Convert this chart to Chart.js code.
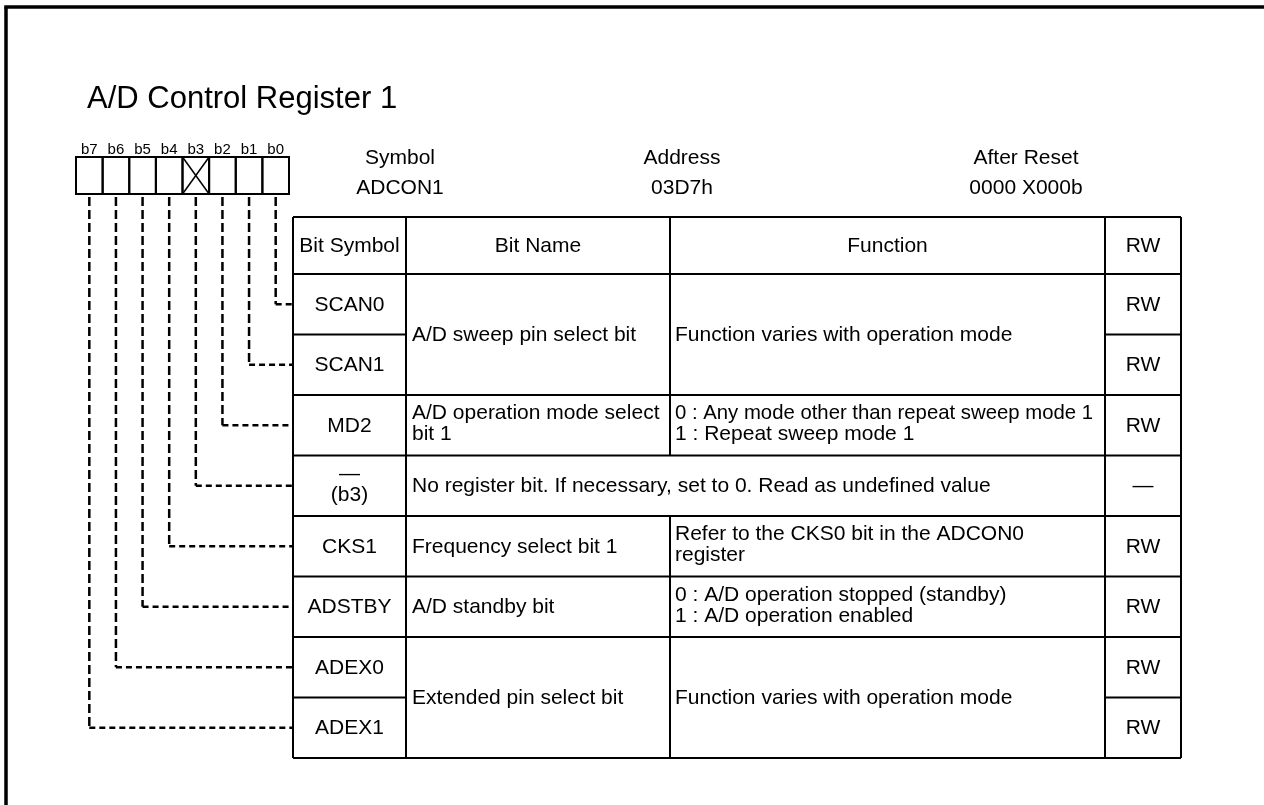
<!DOCTYPE html>
<html><head><meta charset="utf-8">
<script src="https://cdn.jsdelivr.net/npm/chart.js@4.4.1/dist/chart.umd.min.js"></script>
<style>html,body{margin:0;padding:0;background:#fff;overflow:hidden}canvas{display:block}</style>
</head><body><canvas id="c" width="1264" height="805"></canvas>
<script>
// ---- content ----
const title = 'A/D Control Register 1';
const bitLabels = ['b7','b6','b5','b4','b3','b2','b1','b0'];
const reservedBits = ['b3'];
const infoLabels = ['Symbol','Address','After Reset'];
const infoValues = ['ADCON1','03D7h','0000 X000b'];
const columnHeaders = ['Bit Symbol','Bit Name','Function','RW'];
const rowSymbols = ['SCAN0','SCAN1','MD2','—\n(b3)','CKS1','ADSTBY','ADEX0','ADEX1'];
const rowBits = ['b0','b1','b2','b3','b4','b5','b6','b7'];
const rowRW = ['RW','RW','RW','—','RW','RW','RW','RW'];
const groupRows = [[0,1],[2],[3],[4],[5],[6,7]];
const groupNames = ['A/D sweep pin select bit','A/D operation mode select\nbit 1','No register bit. If necessary, set to 0. Read as undefined value','Frequency select bit 1','A/D standby bit','Extended pin select bit'];
const groupFunctions = ['Function varies with operation mode','0 : Any mode other than repeat sweep mode 1\n1 : Repeat sweep mode 1',null,'Refer to the CKS0 bit in the ADCON0\nregister','0 : A/D operation stopped (standby)\n1 : A/D operation enabled','Function varies with operation mode'];

// ---- layout ----
const W = 1264, H = 805;
const L = {
  border:{x:6, y:7, w:3.5},
  title:{x:87, y:108, size:31},
  box:{left:76, right:289, top:157, bottom:194},
  bitLabelY:154, bitLabelSize:15,
  info:{x:[400,682,1026], y1:164, y2:194},
  cols:[293,406,670,1105,1181],
  tableTop:217, headerBottom:274, tableBottom:758,
  font:21, lineH:21, padL:6, padR:12,
  connTop:197
};
const boxW = (L.box.right - L.box.left) / bitLabels.length;
const rowH = (L.tableBottom - L.headerBottom) / rowSymbols.length;
const bitX = b => L.box.left + (bitLabels.indexOf(b) + 0.5) * boxW;
const rowTop = i => L.headerBottom + i * rowH;
const rowMid = i => L.headerBottom + (i + 0.5) * rowH;

const vData = [], hData = [];
rowBits.forEach((b, i) => {
  const x = bitX(b), y = rowMid(i);
  vData.push({x, y:L.connTop}, {x, y}, {x, y:null});
  hData.push({x, y}, {x:L.cols[0], y}, {x:L.cols[0], y:null});
});

const FONT = s => `${s}px "Liberation Sans", Arial, Helvetica, sans-serif`;

const diagramPlugin = {
  id:'diagram',
  afterDraw(chart){
    const ctx = chart.ctx, sx = chart.scales.x, sy = chart.scales.y;
    const X = v => sx.getPixelForValue(v), Y = v => sy.getPixelForValue(v);
    ctx.save();
    ctx.strokeStyle = '#000'; ctx.fillStyle = '#000';
    const line = (x1,y1,x2,y2,w) => { ctx.lineWidth = w; ctx.beginPath(); ctx.moveTo(X(x1),Y(y1)); ctx.lineTo(X(x2),Y(y2)); ctx.stroke(); };
    const text = (t, x, y, size, align, maxW) => {
      ctx.font = FONT(size); ctx.textAlign = align; ctx.textBaseline = 'alphabetic';
      if (maxW) ctx.fillText(t, X(x), Y(y), maxW); else ctx.fillText(t, X(x), Y(y));
    };
    const multi = (t, x, cy, align, maxW) => {
      const lines = t.split('\n'), n = lines.length;
      const off = n > 1 ? 4.5 : 6.5;
      lines.forEach((s, k) => text(s, x, cy + off + (k - (n-1)/2) * L.lineH, L.font, align, maxW));
    };
    // outer frame (top + left)
    ctx.lineCap = 'butt';
    line(L.border.x - L.border.w/2, L.border.y, W, L.border.y, L.border.w);
    line(L.border.x, L.border.y, L.border.x, H, L.border.w);
    // title
    text(title, L.title.x, L.title.y, L.title.size, 'left');
    // bit boxes
    bitLabels.forEach((b, k) => {
      const x0 = L.box.left + k * boxW;
      text(b, x0 + boxW/2, L.bitLabelY, L.bitLabelSize, 'center');
      ctx.lineWidth = 2;
      ctx.strokeRect(X(x0), Y(L.box.top), X(x0 + boxW) - X(x0), Y(L.box.bottom) - Y(L.box.top));
      if (reservedBits.includes(b)) {
        line(x0, L.box.top, x0 + boxW, L.box.bottom, 1.5);
        line(x0 + boxW, L.box.top, x0, L.box.bottom, 1.5);
      }
    });
    // info
    infoLabels.forEach((t, k) => { text(t, L.info.x[k], L.info.y1, L.font, 'center'); text(infoValues[k], L.info.x[k], L.info.y2, L.font, 'center'); });
    // table
    const c = L.cols, lw = 2;
    line(c[0], L.tableTop, c[4], L.tableTop, lw);
    line(c[0], L.headerBottom, c[4], L.headerBottom, lw);
    line(c[0], L.tableBottom, c[4], L.tableBottom, lw);
    [0,1,3,4].forEach(k => line(c[k], L.tableTop, c[k], L.tableBottom, lw));
    line(c[2], L.tableTop, c[2], L.headerBottom, lw);
    const hy = (L.tableTop + L.headerBottom) / 2;
    columnHeaders.forEach((t, k) => multi(t, (c[k] + c[k+1]) / 2, hy, 'center'));
    groupRows.forEach((rows, g) => {
      const top = rowTop(rows[0]), bot = rowTop(rows[rows.length-1] + 1), mid = (top + bot) / 2;
      line(c[0], top, c[4], top, lw);
      rows.forEach((r, j) => {
        if (j > 0) { line(c[0], rowTop(r), c[1], rowTop(r), lw); line(c[3], rowTop(r), c[4], rowTop(r), lw); }
        multi(rowSymbols[r], (c[0] + c[1]) / 2, rowMid(r), 'center');
        multi(rowRW[r], (c[3] + c[4]) / 2, rowMid(r), 'center');
      });
      if (groupFunctions[g] !== null) {
        multi(groupNames[g], c[1] + L.padL, mid, 'left', X(c[2]) - X(c[1]) - L.padL - 2);
        line(c[2], top, c[2], bot, lw);
        multi(groupFunctions[g], c[2] + 5, mid, 'left', X(c[3]) - X(c[2]) - 5 - L.padR);
      } else {
        multi(groupNames[g], c[1] + L.padL, mid, 'left', X(c[3]) - X(c[1]) - L.padL - L.padR);
      }
    });
    ctx.restore();
  }
};

const chart = new Chart(document.getElementById('c'), {
  type:'scatter',
  data:{datasets:[
    {data:vData, showLine:true, spanGaps:false, borderColor:'#000', borderWidth:2.5, borderDash:[9,4], pointRadius:0, fill:false},
    {data:hData, showLine:true, spanGaps:false, borderColor:'#000', borderWidth:2.5, borderDash:[6,4], pointRadius:0, fill:false}
  ]},
  options:{
    responsive:false, animation:false, events:[],
    layout:{padding:0},
    plugins:{legend:{display:false}, tooltip:{enabled:false}},
    scales:{
      x:{type:'linear', min:0, max:W, display:false},
      y:{type:'linear', min:0, max:H, reverse:true, display:false}
    }
  },
  plugins:[diagramPlugin]
});
</script></body></html>
